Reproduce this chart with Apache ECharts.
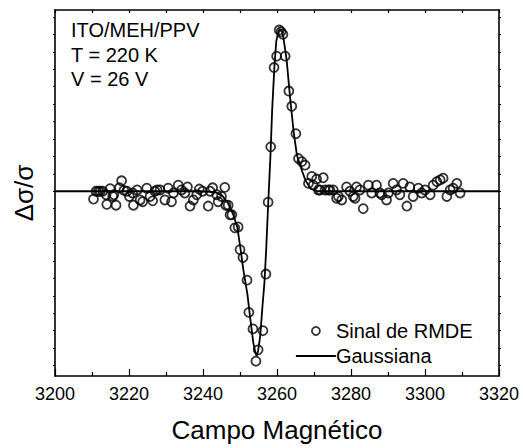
<!DOCTYPE html>
<html>
<head>
<meta charset="utf-8">
<script src="https://cdn.jsdelivr.net/npm/echarts@6/dist/echarts.min.js"></script>
<style>
html,body{margin:0;padding:0;background:#fff;}
#chart{width:523px;height:448px;}
</style>
</head>
<body>
<div id="chart"></div>
<script>
// Measured signal (field in G, amplitude in arbitrary units)
const signalField = [3210.4, 3211.1, 3211.7, 3212.2, 3212.9, 3213.8, 3214.0, 3214.9, 3215.6, 3215.9, 3216.5, 3217.4, 3218.0, 3218.6, 3219.4, 3220.1, 3221.0, 3221.2, 3222.2, 3223.0, 3223.7, 3224.8, 3225.7, 3226.4, 3227.0, 3227.6, 3228.4, 3229.7, 3230.6, 3231.5, 3232.0, 3233.3, 3234.2, 3235.1, 3235.8, 3236.5, 3237.4, 3238.3, 3239.0, 3239.9, 3241.4, 3241.9, 3242.6, 3243.7, 3244.1, 3245.0, 3245.9, 3246.2, 3246.8, 3247.3, 3247.8, 3248.6, 3249.5, 3250.0, 3250.8, 3251.9, 3252.4, 3253.5, 3254.3, 3254.9, 3256.2, 3257.0, 3257.6, 3258.3, 3259.2, 3259.9, 3260.6, 3261.1, 3261.6, 3262.2, 3263.2, 3264.0, 3265.1, 3265.8, 3266.7, 3267.6, 3268.5, 3269.4, 3269.8, 3270.7, 3271.2, 3271.6, 3272.5, 3273.0, 3273.9, 3274.3, 3275.2, 3276.1, 3276.6, 3277.5, 3278.8, 3279.7, 3280.6, 3281.1, 3281.5, 3282.4, 3283.3, 3284.7, 3285.6, 3286.9, 3287.8, 3288.3, 3289.6, 3290.1, 3291.4, 3292.3, 3293.2, 3294.1, 3295.1, 3295.9, 3296.8, 3298.2, 3299.1, 3300.0, 3301.4, 3302.2, 3303.2, 3304.1, 3304.9, 3305.9, 3306.8, 3307.6, 3308.6, 3309.5];
const signalAmp = [-0.9, 0.0, 0.0, 0.0, 0.0, -0.4, -1.5, 0.3, -0.6, -0.4, -1.6, 0.4, 1.2, 0.1, 0.0, -0.6, -0.2, -1.6, 0.15, -1.0, -1.2, 0.35, -0.6, -1.1, 0.0, 0.15, 0.15, -1.0, 0.35, -1.2, -0.2, 0.7, 0.15, -0.2, 0.5, -1.7, -1.0, -0.4, 0.25, 0.0, -1.7, 0.0, 0.4, -0.4, -1.2, -0.6, 0.45, -1.6, -1.6, -2.7, -2.7, -4.2, -4.1, -6.7, -7.6, -10.2, -13.9, -15.8, -19.5, -18.2, -16.0, -9.5, -1.25, 5.1, 14.2, 15.5, 18.5, 18.3, 18.0, 15.5, 11.5, 9.75, 6.6, 3.75, 3.4, 3.0, 0.9, 1.7, 0.7, 1.4, 0.15, 0.15, 1.55, 0.15, 0.15, 0.15, 0.15, -0.8, -0.6, -1.0, 0.5, 0.0, -0.6, -0.8, 0.5, 0.15, -2.0, 0.7, -0.2, 0.7, -0.2, -0.4, -1.0, -0.2, 0.9, 0.15, -0.4, 0.9, -1.7, 0.5, -0.6, 0.35, -0.2, 0.15, -0.4, 0.7, 1.1, 1.3, 1.5, -0.6, 0.15, 0.35, 0.9, -0.2];

// Gaussian-derivative fit
const fitField = [3200, 3239.2, 3243.3, 3245.2, 3246.8, 3248.2, 3249.3, 3250.1, 3250.9, 3252.0, 3252.8, 3253.6, 3254.1, 3254.5, 3254.9, 3255.5, 3256.0, 3256.6, 3257.1, 3257.6, 3258.2, 3258.7, 3259.3, 3259.8, 3260.4, 3260.8, 3261.2, 3261.6, 3262.6, 3263.5, 3264.5, 3265.4, 3266.8, 3267.7, 3269.0, 3270.8, 3320];
const fitAmp = [0, 0, -0.1, -0.5, -1.4, -2.7, -4.2, -6.5, -9.0, -11.8, -14.7, -17.4, -18.4, -18.9, -18.3, -16.5, -13.6, -10.5, -6.5, -1.6, 3.8, 9.4, 14.3, 17.2, 18.4, 18.6, 18.5, 18.0, 15.1, 10.9, 6.8, 4.1, 2.3, 1.25, 0.35, 0, 0];

const xTickValues = [3200, 3220, 3240, 3260, 3280, 3300, 3320];
const yTickValues = [-20, -18, -16, -14, -12, -10, -8, -6, -4, -2, 0, 2, 4, 6, 8, 10, 12, 14, 16, 18, 20];
const infoLines = ['ITO/MEH/PPV', 'T = 220 K', 'V = 26 V'];
const seriesNames = ['Sinal de RMDE', 'Gaussiana'];

const FONT = "'Liberation Sans', Arial, sans-serif";
const chart = echarts.init(document.getElementById('chart'), null, {renderer: 'svg'});

const signalData = signalField.map((x, i) => [x, signalAmp[i]]);
const fitData = fitField.map((x, i) => [x, fitAmp[i]]);

const yAxisCommon = {
  type: 'value', min: -21.2, max: 20.8, interval: 2,
  axisLine: {show: true, onZero: false, lineStyle: {color: '#000', width: 1.6}},
  axisTick: {show: true, inside: false, length: 2, customValues: yTickValues, lineStyle: {color: '#000', width: 1}},
  axisLabel: {show: false},
  splitLine: {show: false}
};

chart.setOption({
  animation: false,
  backgroundColor: '#fff',
  grid: {left: 55, right: 24, top: 10, bottom: 68, containLabel: false},
  xAxis: [{
    type: 'value', min: 3200, max: 3320, interval: 20, position: 'bottom',
    name: 'Campo Magnético', nameLocation: 'middle', nameGap: 41,
    nameTextStyle: {fontFamily: FONT, fontSize: 26, color: '#000'},
    axisLine: {show: true, onZero: false, lineStyle: {color: '#000', width: 1.6}},
    axisTick: {show: true, inside: true, length: 7, lineStyle: {color: '#000', width: 1.2}},
    minorTick: {show: true, splitNumber: 2, length: 4, lineStyle: {color: '#000', width: 1.2}},
    axisLabel: {show: true, fontFamily: FONT, fontSize: 18, color: '#000', margin: 9,
      customValues: xTickValues, formatter: v => String(v)},
    splitLine: {show: false}
  }, {
    type: 'value', min: 3200, max: 3320, interval: 10, position: 'top',
    axisLine: {show: true, onZero: false, lineStyle: {color: '#000', width: 1.6}},
    axisTick: {show: true, inside: true, length: 3, lineStyle: {color: '#000', width: 1.2}},
    axisLabel: {show: false},
    splitLine: {show: false}
  }],
  yAxis: [Object.assign({}, yAxisCommon, {
    position: 'left', name: 'Δσ/σ', nameLocation: 'middle', nameGap: 18, nameRotate: 90,
    nameTextStyle: {fontFamily: FONT, fontSize: 26, color: '#000'}
  }), Object.assign({}, yAxisCommon, {position: 'right'})],
  legend: {
    orient: 'vertical', left: 290, top: 316, itemWidth: 40, itemHeight: 8, itemGap: 5,
    textStyle: {fontFamily: FONT, fontSize: 20, color: '#000', padding: [0, 0, 0, -5]},
    data: [
      {name: seriesNames[0], icon: 'circle',
        itemStyle: {color: 'rgba(255,255,255,0)', borderColor: '#000', borderWidth: 1.8}},
      {name: seriesNames[1],
        itemStyle: {color: 'rgba(0,0,0,0)', borderColor: 'rgba(0,0,0,0)', borderWidth: 0, opacity: 0},
        lineStyle: {color: '#000', width: 1.8, opacity: 1}}
    ]
  },
  graphic: infoLines.map((t, i) => ({
    type: 'text', left: 71, top: 20 + i * 24.5,
    style: {text: t, font: '20px ' + FONT, fill: '#000'}
  })),
  series: [{
    name: seriesNames[1], type: 'line', data: fitData, showSymbol: false, symbol: 'none',
    xAxisIndex: 0, yAxisIndex: 0, z: 2,
    lineStyle: {color: '#000', width: 1.8}, itemStyle: {color: '#000'}
  }, {
    name: seriesNames[0], type: 'scatter', data: signalData, symbol: 'circle', symbolSize: 9,
    xAxisIndex: 0, yAxisIndex: 0, z: 3,
    itemStyle: {color: 'rgba(255,255,255,0)', borderColor: '#000', borderWidth: 1.8}
  }]
});
</script>
</body>
</html>
